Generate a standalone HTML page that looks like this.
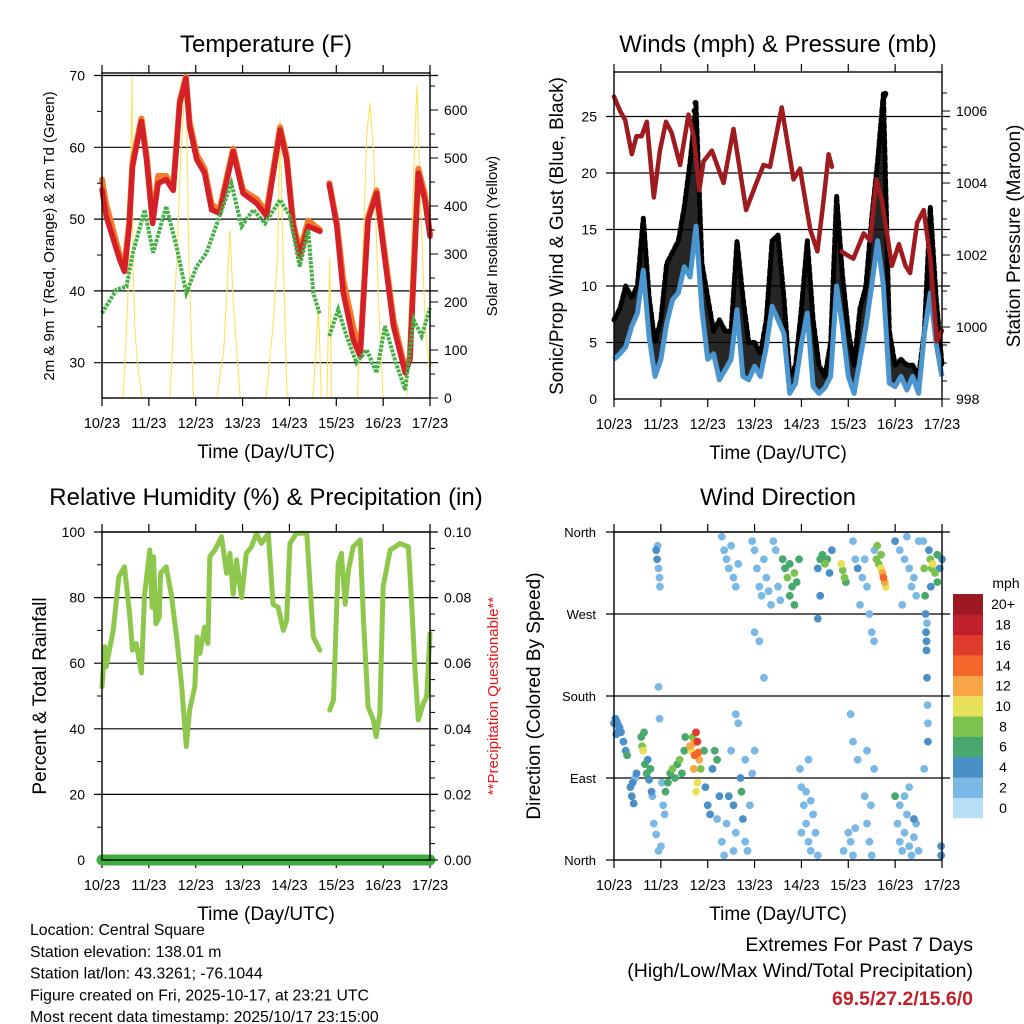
<!DOCTYPE html>
<html><head><meta charset="utf-8"><style>
body{margin:0;background:#fff;}
svg{display:block;font-family:"Liberation Sans",sans-serif;}
</style></head><body>
<svg id="c" width="1024" height="1024" viewBox="0 0 1024 1024" xmlns="http://www.w3.org/2000/svg">
<rect width="1024" height="1024" fill="#fff"/>
</svg>
<script>
// ---- Temperature data (t in days since 10/23 00 UTC) ----
const tempTimes=[0,.09,.38,.48,.58,.65,.84,.95,1.08,1.2,1.37,1.52,1.66,1.79,1.87,2.02,2.19,2.34,2.51,2.8,3.01,3.3,3.51,3.8,3.94,4.08,4.22,4.4,4.65,null,4.85,5.01,5.15,5.36,5.51,5.68,5.86,6.04,6.22,6.47,6.57,6.75,6.89,7.0];
const temp2m=[54.1,50.4,44.3,42.7,49,57.3,63.6,58.3,49.4,55,55.5,54,66.1,69.6,62.9,58.3,56.4,51.3,50.8,59.4,53.6,52.2,50.4,62.4,58.3,49,44.8,49,48.3,null,54.8,49,39.7,33.2,30.9,49.9,53.6,44.3,35.1,28.6,30.4,56.4,52.7,47.6];
const temp9m=[55.5,52,45,43.5,49.5,58,64,59,50,56,56,54.5,66.5,69.8,63.5,59,57,52,51.3,59.8,54,52.8,51,62.8,58.8,49.5,45.5,49.8,48.5,null,55,49.5,41.5,35,31.5,50.3,54,45,36,29,30.8,57,53.5,48];
const dewTimes=[0,.31,.52,.66,.91,1.09,1.37,1.59,1.8,2.02,2.23,2.51,2.76,2.98,3.23,3.48,3.8,4.01,4.22,4.4,4.51,4.65,null,4.85,5.04,5.22,5.43,5.65,5.86,6.04,6.25,6.47,6.65,6.82,7.0];
const dewVals=[36.9,40.2,40.6,45.3,51.3,45.3,51.8,46.2,39.7,43.4,45.3,50.4,55,49,51.3,49.4,52.7,50.4,43.4,48.5,39.7,36.7,null,33.7,37.4,33.7,30,31.8,28.6,35.1,30.4,26.2,36,33.7,37.6];
const solarTimes=[0,.45,.55,.6,.64,.66,.7,.75,.85,1.45,1.6,1.68,1.74,1.8,1.85,1.95,2.45,2.6,2.73,2.8,2.95,3.5,3.65,3.75,3.8,3.85,3.95,4.5,4.62,4.68,4.8,4.86,4.9,5.45,5.55,5.65,5.72,5.8,5.9,6.0,6.5,6.6,6.68,6.72,6.8,6.9,7.0];
const solarVals=[0,0,200,400,670,300,150,80,0,0,300,500,600,670,300,0,0,100,350,200,0,0,150,300,580,350,0,0,190,0,0,290,0,0,250,550,615,500,200,0,0,300,550,650,400,150,50];
// ---- Winds ----
const windStep=0.125;
const windSustained=[3.5,4,4.6,6.4,7.6,11.4,5.5,2,3.5,6.7,8.8,9.4,11.7,10.8,15.3,7.9,3.5,4,1.7,2.6,3.5,7.9,2,1.7,2.9,2,4.6,8.2,7,5.8,.5,1.4,4.9,7.6,1.1,.5,1,2,10,6.4,2,.5,3.5,6.4,10,14,10,1.4,1.1,2,.8,2,.5,5.8,9.4,4.9,2];
const windGust=[7,8,10,9,10,16,9,5,7,12,13,14,17,21,26,12,9,6,7,6,6,14,9,5,5,4,7,14,14.5,9,2,3,8,14,7,3,2,5,18,11,6,3,8,10,16,21,27,6,3,3.5,3,3,2,6,17,9,3];
const presTimes=[0,.13,.24,.38,.48,.59,.7,.85,.98,1.11,1.23,1.41,1.59,1.7,1.82,1.91,2.09,2.34,2.55,2.82,3.01,3.19,3.33,3.58,3.83,3.97,4.19,4.34,4.47,4.58,4.65,null,4.86,4.97,5.11,5.33,5.47,5.6,5.72,5.93,6.08,6.22,6.32,6.47,6.61,6.75,6.89,7.0];
const presVals=[1006.4,1006,1005.75,1004.8,1005.3,1005.3,1005.7,1003.6,1004.9,1005.7,1005.4,1004.5,1005.9,1005.3,1003.8,1004.6,1004.9,1004,1005.5,1003.25,1003.9,1004.5,1004.45,1006.1,1004.1,1004.4,1002.7,1002.1,1003.5,1004.8,1004.45,null,1002.1,1002,1001.9,1002.6,1002.4,1004.1,1003.5,1001.7,1002.3,1001.7,1001.5,1002.9,1003.25,1001.9,999.6,999.9];
const gustOutlierT=[1.72,1.74,5.77,5.79];
const gustOutlierV=[25.5,26.2,26.8,27];
// ---- RH ----
const rhTimes=[0,.06,.09,.24,.36,.48,.59,.65,.73,.84,.91,1.02,1.07,1.1,1.15,1.22,1.25,1.37,1.48,1.6,1.7,1.8,1.87,1.98,2.03,2.09,2.19,2.26,2.3,2.41,2.55,2.66,2.73,2.8,2.87,2.98,3.08,3.19,3.3,3.4,3.55,3.65,3.76,3.87,3.94,4.01,4.15,4.37,4.51,4.65,null,4.86,4.94,5.04,5.11,5.19,5.26,5.36,5.51,5.58,5.68,5.79,5.85,5.93,6.0,6.15,6.36,6.54,6.61,6.68,6.75,6.86,6.93,7.0];
const rhVals=[52.8,65,59,70,86.4,89.4,75,64,66,57,81,94.5,77,92.5,72,74,87.4,89.4,81,67,53,34.6,45.7,52.8,68,63,71,66,92.5,94.5,98.6,87.4,93.5,81,91.5,80,93.5,95.5,99.6,96.5,99.6,78,77,70,73,96.5,99.6,99.6,68,64,null,45.7,48.8,90.4,93.5,78,88.4,95.5,97.6,73,46.7,42.7,37.6,44.7,83.3,94.5,96.5,95.5,78,58,42.7,47.8,49.8,69];
const precipVals=[0,0];
// ---- Wind direction ----
const dirT=[0,.03,.06,.09,.12,.15,.05,.1,.2,.25,.28,.35,.38,.4,.42,.45,.48,.58,.6,.62,.64,.66,.7,.72,.75,.8,.82,.78,.9,.92,.95,.97,.93,.98,.95,.97,.85,.9,.95,1,1.05,1.08,1.02,1.1,1.15,1.2,1.25,1.3,1.35,1.4,1.45,1.5,1.52,1.62,1.65,1.68,1.7,1.72,1.75,1.78,1.8,1.82,1.78,1.85,1.75,1.7,1.92,1.95,2,2.05,2.1,2.15,2.2,2.25,2.2,2.3,2.35,2.4,2.45,2.5,2.55,2.6,2.65,2.7,2.72,2.75,2.8,2.85,2.9,2.95,3,2.8,2.6,2.55,2.3,2.35,2.4,2.45,2.5,2.55,2.6,2.65,2.95,3,3.05,3.1,3.15,3.2,3.25,3.3,3.35,3.4,3.45,3.5,3.55,3,3.1,3.2,3.6,3.65,3.7,3.75,3.8,3.85,3.9,3.95,3.75,3.85,3.97,4,4.05,4.1,4.15,4.2,4.25,4.3,4.35,4.1,4.2,4,4.15,4.35,4.4,4.45,4.5,4.55,4.6,4.65,4.4,4.35,4.85,4.88,4.92,4.95,5,5.05,5.1,5.15,4.9,5.05,5.1,5.2,5.1,5.15,5.2,5.3,5.4,5.45,5.5,5.55,5.35,5.25,5.35,5.4,5.45,5.5,5.55,5.48,5.4,5.56,5.6,5.65,5.7,5.73,5.75,5.78,5.8,5.7,5.62,6,6.05,6.1,6.15,6.2,6.25,6.3,6.35,6.4,6.45,6.5,6.2,6.3,6.1,6.4,6,6.1,6.2,6.25,6.3,6.35,6.4,6.45,6.5,6.15,6.6,6.62,6.64,6.65,6.66,6.67,6.68,6.69,6.7,6.7,6.62,6.68,6.67,6.72,6.75,6.78,6.8,6.85,6.9,6.95,7,6.76,6.9,6.98,6.98];
const dirDeg=[150,155,152,148,145,140,138,142,130,120,115,80,70,85,62,90,95,135,125,120,140,105,95,110,88,75,70,100,340,330,320,310,345,300,190,155,40,28,10,15,60,50,85,75,85,95,100,90,105,110,95,120,135,125,120,135,128,115,140,130,118,110,85,100,75,100,120,80,60,50,100,120,110,70,45,20,5,40,70,120,60,30,150,90,75,45,20,10,60,95,120,110,160,10,355,340,330,320,345,310,300,325,350,340,320,300,290,330,310,295,280,350,340,300,285,250,240,200,330,320,310,325,300,315,305,330,290,280,100,80,60,40,20,10,50,30,5,75,65,30,110,320,330,335,325,330,315,340,290,265,325,318,310,305,30,20,5,35,10,160,130,110,350,330,320,310,300,270,250,240,330,280,70,40,20,5,100,60,120,340,330,325,320,315,310,305,300,335,345,70,40,20,10,30,50,15,5,25,40,10,70,80,60,45,350,340,330,355,320,300,310,290,350,280,350,320,290,270,250,230,200,170,150,130,100,260,240,340,330,320,325,315,335,320,330,300,305,15,5];
const dirSpd=[4,4,4,4,4,4,4,5,4,5,6,4,4,4,4,3,4,7,8,10,6,6,6,5,4,4,3,6,4,4,3,2,2,2,2,2,2,2,2,2,3,3,2,6,6,7,8,7,6,8,7,6,7,12,11,9,13,14,16,16,14,12,10,8,10,12,6,4,4,4,4,6,7,4,3,2,2,3,4,2,4,3,3,4,6,4,3,2,2,2,2,3,2,2,2,2,3,3,2,3,3,2,2,2,3,2,3,3,2,3,3,2,2,3,2,2,2,2,6,7,8,6,7,8,6,6,6,6,2,2,2,2,2,2,2,2,3,3,2,2,2,5,6,7,8,6,5,4,4,4,10,9,8,7,2,3,2,2,2,2,2,2,3,3,4,3,3,2,2,2,2,3,2,2,2,2,2,2,2,2,8,9,10,12,14,12,11,8,8,7,2,2,2,3,2,2,2,2,2,2,2,2,2,4,4,2,2,2,2,3,2,2,2,2,2,8,6,5,5,4,4,2,3,4,3,2,4,4,8,9,10,8,6,4,4,4,7,5,4,4];
const speedColors=['#b5e0f7','#7ab8e5','#4a8fc8','#48a86e','#7cc24e','#e8e058','#f9a646','#f2662a','#e03a2c','#c0202a','#9b1a1f'];
const speedLabels=['0','2','4','6','8','10','12','14','16','18','20+'];
const dayLabels=['10/23','11/23','12/23','13/23','14/23','15/23','16/23','17/23'];

const svg=document.getElementById('c');
const NS='http://www.w3.org/2000/svg';
function mk(tag,attrs,parent){const e=document.createElementNS(NS,tag);for(const k in attrs)e.setAttribute(k,attrs[k]);(parent||svg).appendChild(e);return e;}
function txt(x,y,s,size,anchor,parent,extra){const e=mk('text',Object.assign({x:x,y:y,'font-size':size,'text-anchor':anchor||'middle',fill:'#000'},extra||{}),parent);e.textContent=s;return e;}
function pathFrom(ts,vs,sx,sy){let d='',pen=false;for(let i=0;i<ts.length;i++){if(ts[i]===null||vs[i]===null){pen=false;continue;}d+=(pen?'L':'M')+sx(ts[i]).toFixed(1)+' '+sy(vs[i]).toFixed(1);pen=true;}return d;}

function panel(name,L,R,T,B,title,grids,gridY){
  const g=mk('g',{});
  
  
  const tt=txt((L+R)/2,52,title,24,'middle',g);
  
  
  if(T>500){tt.setAttribute('y',505);}
  grids.forEach(v=>{mk('line',{x1:L-8,x2:R+8,y1:gridY(v),y2:gridY(v),stroke:'#000','stroke-width':1.2},g);});
  const sx=t=>L+(R-L)*t/7;
  dayLabels.forEach((d,i)=>{const x=sx(i);
    mk('line',{x1:x,x2:x,y1:T-8,y2:T,stroke:'#000','stroke-width':1.2},g);
    mk('line',{x1:x,x2:x,y1:B,y2:B+8,stroke:'#000','stroke-width':1.2},g);
    const l=txt(x,B+30,d,14.5,'middle',g);
    
    
  });
  const xt=txt((L+R)/2,B+60,'Time (Day/UTC)',19,'middle',g);
  
  
  return {g:g,sx:sx};
}
function frame(g,L,R,T,B){mk('rect',{x:L,y:T,width:R-L,height:B-T,fill:'none',stroke:'#000','stroke-width':1.4},g);}

// ===== Panel 1 Temperature =====
(function(){
const L=102,R=430,T=73,B=398;
const sy=v=>362.7-(v-30)*7.18;
const ss=v=>B-v*0.48;
const p=panel('temperature-panel',L,R,T,B,'Temperature (F)',[30,40,50,60,70],sy);
const g=p.g,sx=p.sx;
const sol=mk('path',{d:pathFrom(solarTimes,solarVals,sx,ss),fill:'none',stroke:'#fde25a','stroke-width':1.1},g);


const o=mk('path',{d:pathFrom(tempTimes,temp9m,sx,sy),fill:'none',stroke:'#f47b2a','stroke-width':6,'stroke-linejoin':'round','stroke-linecap':'round'},g);


const r=mk('path',{d:pathFrom(tempTimes,temp2m,sx,sy),fill:'none',stroke:'#d42027','stroke-width':5.5,'stroke-linejoin':'round','stroke-linecap':'round'},g);


const d=mk('path',{d:pathFrom(dewTimes,dewVals,sx,sy),fill:'none',stroke:'#45b045','stroke-width':4,'stroke-dasharray':'3 1.2'},g);


frame(g,L,R,T,B);
[30,40,50,60,70].forEach(v=>{const l=txt(L-17,sy(v)+5,String(v),14,'end',g);});
[35,45,55,65].forEach(v=>mk('line',{x1:L-5,x2:L,y1:sy(v),y2:sy(v),stroke:'#000'},g));
for(let v=0;v<=650;v+=50){mk('line',{x1:R,x2:R+(v%100?5:8),y1:ss(v),y2:ss(v),stroke:'#000'},g);}
[0,100,200,300,400,500,600].forEach(v=>{const l=txt(R+14,ss(v)+5,String(v),14,'start',g);});
const yl=txt(0,0,'2m & 9m T (Red, Orange) & 2m Td (Green)',15,'middle',g,{transform:'translate(54,236) rotate(-90)'});

const yr=txt(0,0,'Solar Insolation (Yellow)',15,'middle',g,{transform:'translate(497,236) rotate(-90)'});

})();

// ===== Panel 2 Winds =====
(function(){
const L=614,R=942,T=72,B=399;
const sy=v=>B-v*11.3;
const sp=v=>B-(v-998)*36;
const p=panel('winds-panel',L,R,T,B,'Winds (mph) & Pressure (mb)',[5,10,15,20,25],sy);
const g=p.g,sx=p.sx;
const ts=windSustained.map((v,i)=>i*windStep);
let poly='';ts.forEach((t,i)=>poly+=(i?'L':'M')+sx(t).toFixed(1)+' '+sy(windGust[i]).toFixed(1));
for(let i=ts.length-1;i>=0;i--)poly+='L'+sx(ts[i]).toFixed(1)+' '+sy(windSustained[i]).toFixed(1);
const ar=mk('path',{d:poly+'Z',fill:'#000','fill-opacity':0.85},g);


const gl=mk('path',{d:pathFrom(ts,windGust,sx,sy),fill:'none',stroke:'#000','stroke-width':5,'stroke-linejoin':'round','stroke-dasharray':'5 3','stroke-linecap':'round'},g);


gustOutlierT.forEach((t,i)=>{const c=mk('circle',{cx:sx(t),cy:sy(gustOutlierV[i]),r:3,fill:'#000'},g);});
const bl=mk('path',{d:pathFrom(ts,windSustained,sx,sy),fill:'none',stroke:'#4c96d0','stroke-width':5,'stroke-linejoin':'round'},g);


const pr=mk('path',{d:pathFrom(presTimes,presVals,sx,sp),fill:'none',stroke:'#9e1b1e','stroke-width':4.5,'stroke-linejoin':'round','stroke-linecap':'round'},g);


frame(g,L,R,T,B);
[0,5,10,15,20,25].forEach(v=>{const l=txt(L-17,sy(v)+5,String(v),14,'end',g);});
for(let v=998;v<=1006.9;v+=0.5){mk('line',{x1:R,x2:R+(Math.abs(v-Math.round(v/2)*2)<0.01?8:5),y1:sp(v),y2:sp(v),stroke:'#000'},g);}
[998,1000,1002,1004,1006].forEach(v=>{const l=txt(R+14,sp(v)+5,String(v),14,'start',g);});
const yl=txt(0,0,'Sonic/Prop Wind & Gust (Blue, Black)',19,'middle',g,{transform:'translate(563,236) rotate(-90)'});

const yr=txt(0,0,'Station Pressure (Maroon)',19,'middle',g,{transform:'translate(1020,236) rotate(-90)'});

})();

// ===== Panel 3 RH =====
(function(){
const L=102,R=430,T=532,B=860;
const sy=v=>B-v*3.28;
const sq=v=>B-v*3280;
const p=panel('humidity-panel',L,R,T,B,'Relative Humidity (%) & Precipitation (in)',[20,40,60,80,100],sy);
const g=p.g,sx=p.sx;
const rh=mk('path',{d:pathFrom(rhTimes,rhVals,sx,sy),fill:'none',stroke:'#8dc84c','stroke-width':5,'stroke-linejoin':'round','stroke-linecap':'round'},g);


const pc=mk('path',{d:pathFrom([0,7],precipVals,sx,sq),fill:'none',stroke:'#3cae3c','stroke-width':11,'stroke-linecap':'round'},g);


frame(g,L,R,T,B);
[0,20,40,60,80,100].forEach(v=>{const l=txt(L-17,sy(v)+5,String(v),14,'end',g);});
[10,30,50,70,90].forEach(v=>mk('line',{x1:L-5,x2:L,y1:sy(v),y2:sy(v),stroke:'#000'},g));
for(let i=0;i<=20;i++){const v=i*0.005;mk('line',{x1:R,x2:R+(i%4?5:8),y1:sq(v),y2:sq(v),stroke:'#000'},g);}
['0.00','0.02','0.04','0.06','0.08','0.10'].forEach((s,i)=>{const l=txt(R+14,sq(i*0.02)+5,s,14,'start',g);});
const yl=txt(0,0,'Percent & Total Rainfall',19,'middle',g,{transform:'translate(46,696) rotate(-90)'});

const yr=txt(0,0,'**Precipitation Questionable**',15,'middle',g,{transform:'translate(498,696) rotate(-90)',fill:'#e8151b'});

})();

// ===== Panel 4 Wind direction =====
(function(){
const L=614,R=942,T=532,B=860;
const sy=v=>B-v*(B-T)/360;
const p=panel('wind-direction-panel',L,R,T,B,'Wind Direction',[90,180,270,360],sy);
const g=p.g,sx=p.sx;
const order=dirT.map((t,i)=>i).sort((a,b)=>dirSpd[a]-dirSpd[b]);
order.forEach(i=>{const bin=Math.min(10,Math.floor(dirSpd[i]/2));
  const c=mk('circle',{cx:sx(dirT[i]).toFixed(1),cy:sy(dirDeg[i]).toFixed(1),r:3.9,fill:speedColors[bin]},g);
  
  
});
frame(g,L,R,T,B);
mk('line',{x1:L-8,x2:L,y1:B,y2:B,stroke:'#000','stroke-width':1.2},g);
['North','East','South','West','North'].forEach((s,i)=>{const l=txt(L-18,sy(i*90)+5,s,13,'end',g);});
const yl=txt(0,0,'Direction (Colored By Speed)',19,'middle',g,{transform:'translate(540,696) rotate(-90)'});

const cb=mk('g',{},g);


const bh=(818-594)/11;
speedColors.forEach((c,i)=>{const y=818-(i+1)*bh;mk('rect',{x:953,y:y.toFixed(1),width:30,height:(bh+0.3).toFixed(1),fill:c},cb);
  const l=txt(1003,y+bh/2+5,speedLabels[i],14,'middle',cb);});
const u=txt(1006,588,'mph',14,'middle',cb);
})();

// ===== Footer text =====
const info=['Location: Central Square','Station elevation: 138.01 m','Station lat/lon: 43.3261; -76.1044','Figure created on Fri, 2025-10-17, at 23:21 UTC','Most recent data timestamp: 2025/10/17 23:15:00'];
info.forEach((s,i)=>{const l=txt(30,935+i*21.8,s,15.8,'start');});
const e1=txt(973,951,'Extremes For Past 7 Days',19.5,'end');
const e2=txt(973,977,'(High/Low/Max Wind/Total Precipitation)',19.5,'end');
const e3=txt(973,1005,'69.5/27.2/15.6/0',19.5,'end',null,{fill:'#c0202a','font-weight':'bold'});
</script>
</body></html>
